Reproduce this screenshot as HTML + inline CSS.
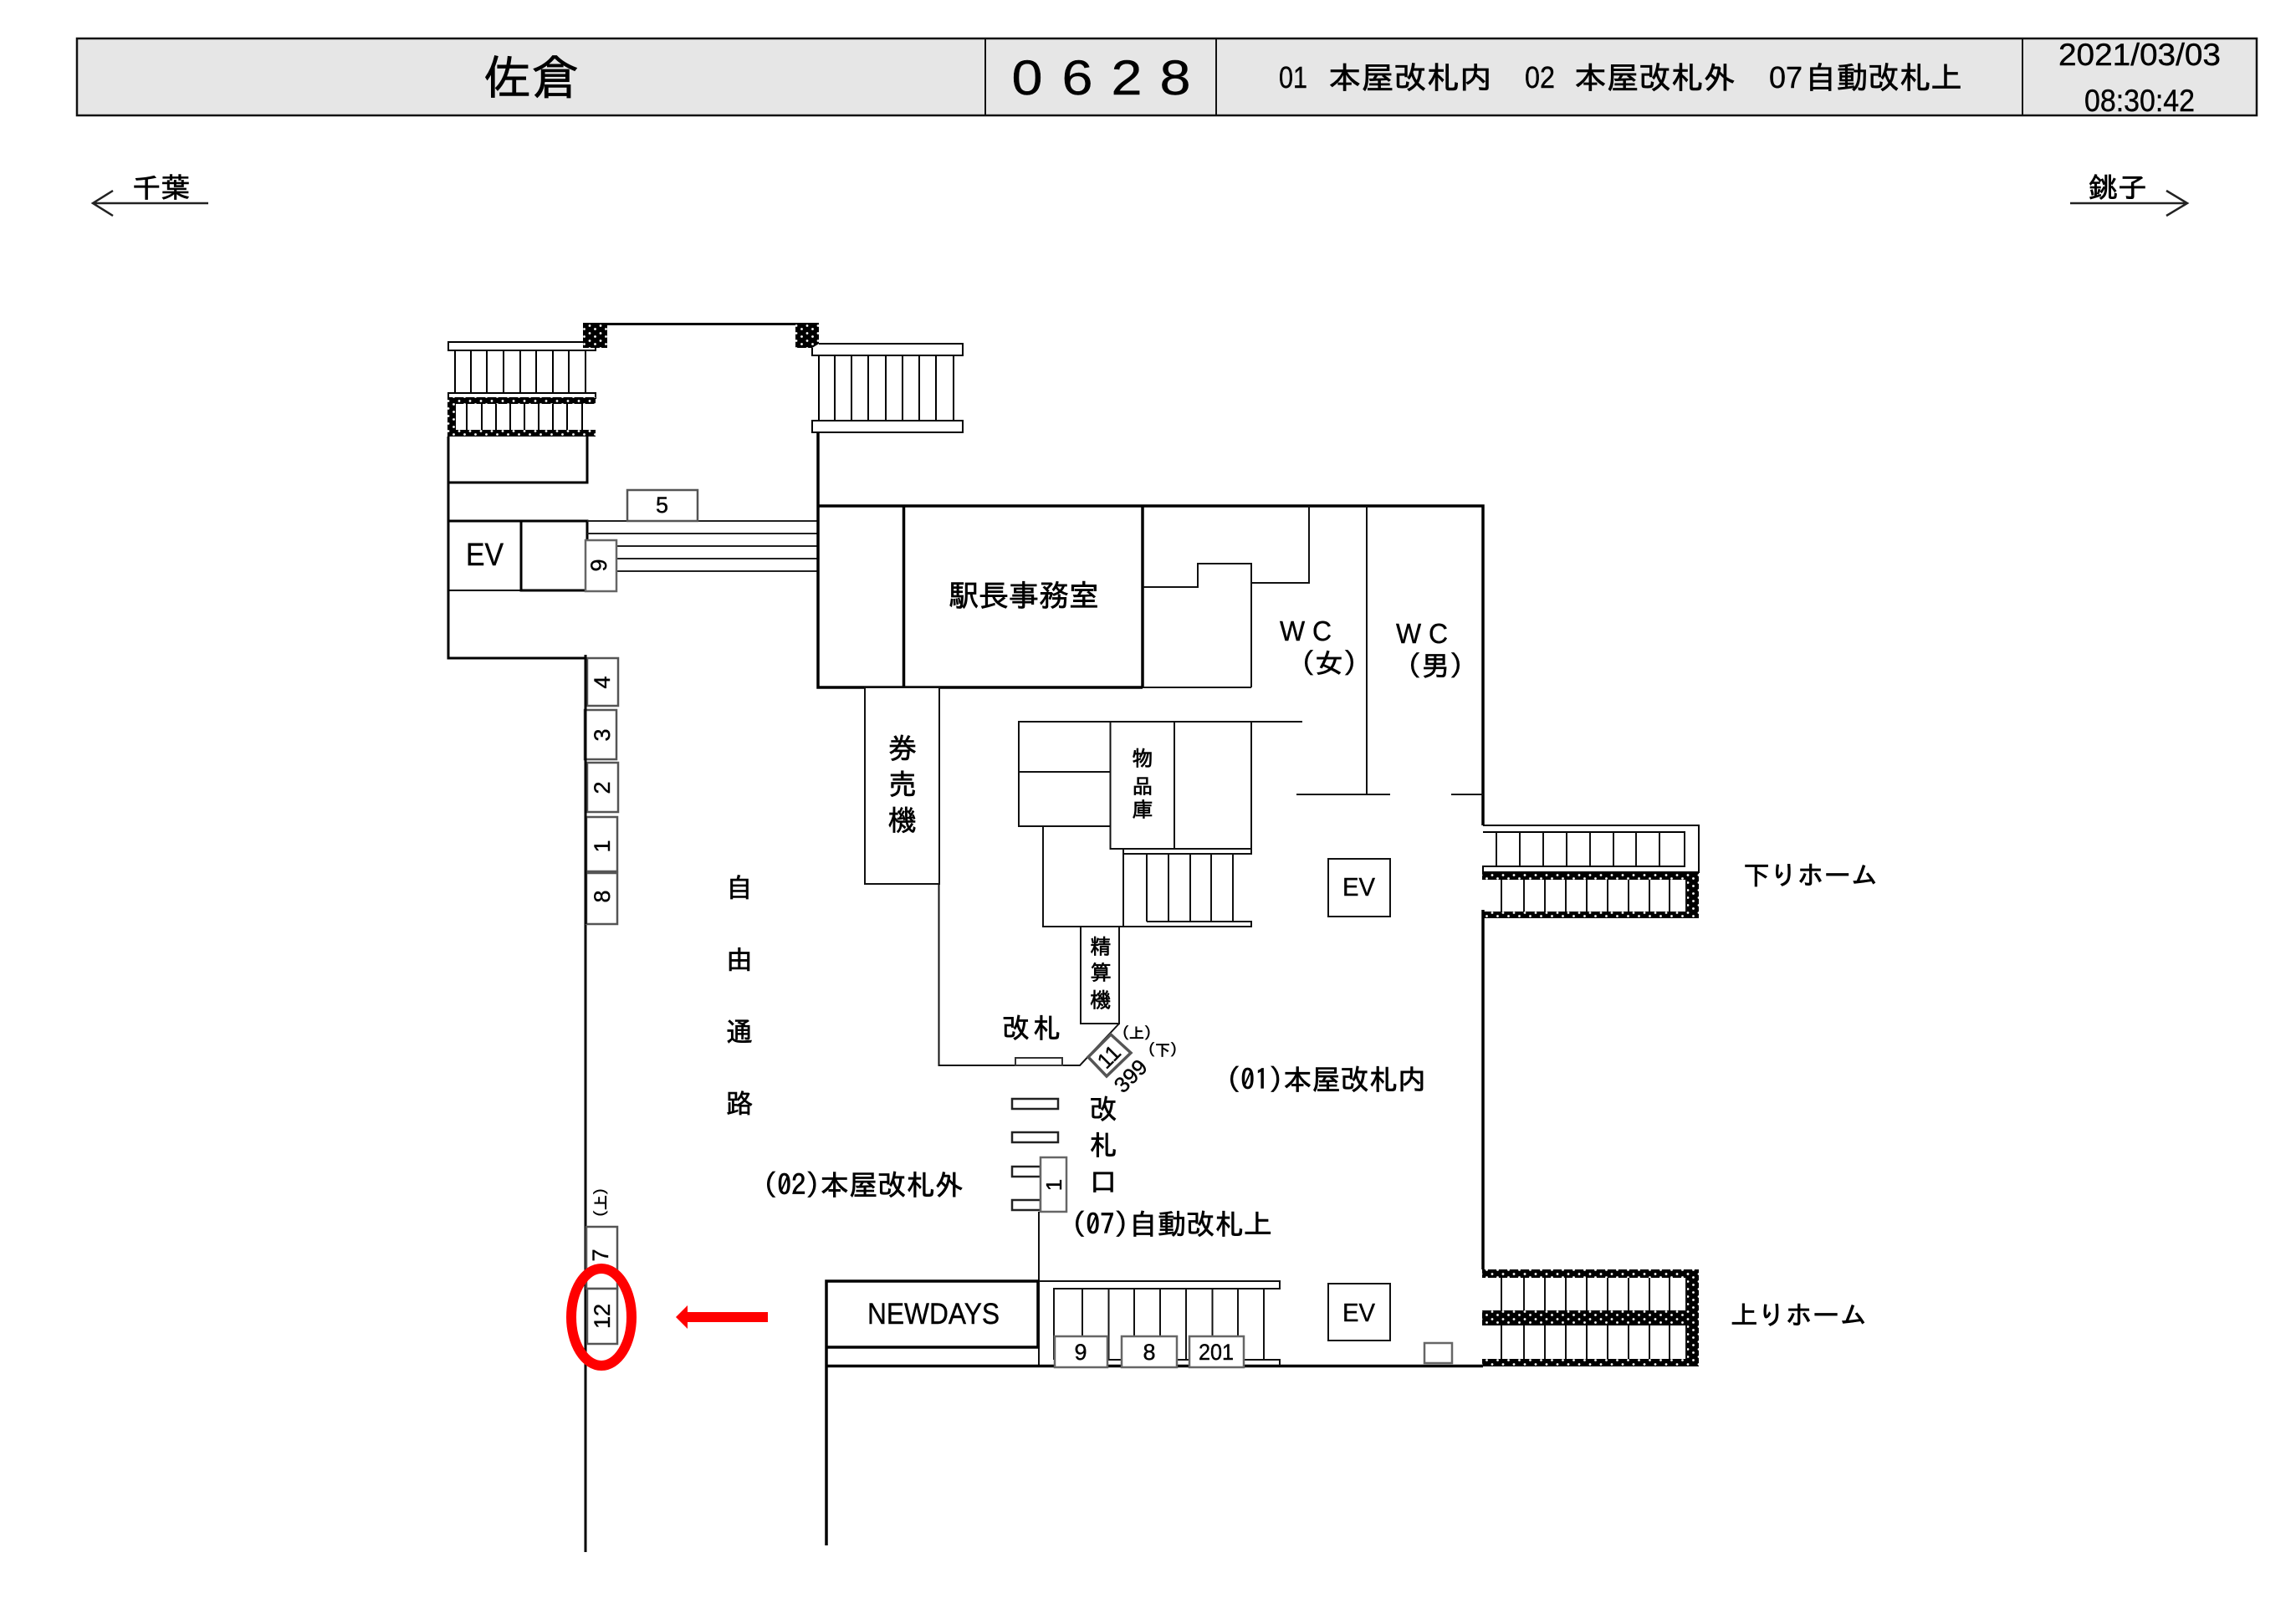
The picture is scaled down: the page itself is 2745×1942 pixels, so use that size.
<!DOCTYPE html>
<html lang="ja">
<head>
<meta charset="utf-8">
<title>佐倉 0628</title>
<style>
html,body{margin:0;padding:0;background:#fff}
svg{display:block}
.j{font-family:"IPAGothic","Noto Sans CJK JP",sans-serif;fill:#000;stroke:#000;stroke-width:.7px}
.l{font-family:"Liberation Sans",sans-serif;fill:#000;stroke:#000;stroke-width:.4px}
.m{text-anchor:middle}
</style>
</head>
<body>
<svg xmlns="http://www.w3.org/2000/svg" width="2745" height="1942" viewBox="0 0 2745 1942">
<defs>
<pattern id="d" patternUnits="userSpaceOnUse" width="13" height="9" x="0" y="0">
<rect width="13" height="9" fill="#000"/>
<circle cx="3" cy="2.5" r="1.4" fill="#fff"/>
<circle cx="9.5" cy="6.5" r="1.4" fill="#fff"/>
</pattern>
</defs>
<rect width="2745" height="1942" fill="#fff"/>

<!-- Header -->
<rect x="92" y="46" width="2606" height="92" fill="#e6e6e6" stroke="#111" stroke-width="2.5"/>
<path d="M1178 46V138M1454 46V138M2418 46V138" stroke="#111" stroke-width="2" fill="none"/>
<text class="j" x="578" y="113" font-size="56" textLength="114" lengthAdjust="spacingAndGlyphs">佐倉</text>
<text class="l m" x="1228" y="113" font-size="58" textLength="37" lengthAdjust="spacingAndGlyphs">0</text>
<text class="l m" x="1288" y="113" font-size="58" textLength="37" lengthAdjust="spacingAndGlyphs">6</text>
<text class="l m" x="1347" y="113" font-size="58" textLength="37" lengthAdjust="spacingAndGlyphs">2</text>
<text class="l m" x="1405" y="113" font-size="58" textLength="37" lengthAdjust="spacingAndGlyphs">8</text>
<text class="l" x="1529" y="105" font-size="36" textLength="34" lengthAdjust="spacingAndGlyphs">01</text>
<text class="j" x="1588" y="106" font-size="37" textLength="196" lengthAdjust="spacingAndGlyphs">本屋改札内</text>
<text class="l" x="1823" y="105" font-size="36" textLength="36" lengthAdjust="spacingAndGlyphs">02</text>
<text class="j" x="1882" y="106" font-size="37" textLength="193" lengthAdjust="spacingAndGlyphs">本屋改札外</text>
<text class="l" x="2115" y="105" font-size="36" textLength="40" lengthAdjust="spacingAndGlyphs">07</text>
<text class="j" x="2158" y="106" font-size="37" textLength="188" lengthAdjust="spacingAndGlyphs">自動改札上</text>
<text class="l" x="2461" y="78" font-size="37" textLength="194" lengthAdjust="spacingAndGlyphs">2021/03/03</text>
<text class="l" x="2492" y="133" font-size="37" textLength="132" lengthAdjust="spacingAndGlyphs">08:30:42</text>

<!-- Direction arrows -->
<path d="M249 243H111M135 228L111 243L135 258" stroke="#222" stroke-width="2.5" fill="none"/>
<text class="j" x="158" y="236" font-size="33" textLength="69" lengthAdjust="spacingAndGlyphs">千葉</text>
<path d="M2475 243H2615M2590 228L2615 243L2590 258" stroke="#222" stroke-width="2.5" fill="none"/>
<text class="j" x="2497" y="236" font-size="33" textLength="70" lengthAdjust="spacingAndGlyphs">銚子</text>

<!-- Top-left stairs -->
<rect x="536" y="409" width="176" height="10" fill="#fff" stroke="#000" stroke-width="2"/>
<path d="M544 419V470M563 419V470M582 419V470M602 419V470M622 419V470M641 419V470M661 419V470M680 419V470M700 419V470" stroke="#000" stroke-width="2" fill="none"/>
<rect x="536" y="470" width="176" height="6" fill="#fff" stroke="#000" stroke-width="2"/>
<rect x="535" y="475" width="177" height="8" fill="url(#d)"/>
<rect x="535" y="475" width="10" height="47" fill="url(#d)"/>
<rect x="535" y="514" width="177" height="8" fill="url(#d)"/>
<path d="M558 483V514M576 483V514M593 483V514M610 483V514M627 483V514M644 483V514M661 483V514M678 483V514M696 483V514" stroke="#000" stroke-width="2" fill="none"/>
<rect x="697" y="386" width="29" height="30" fill="url(#d)"/>
<rect x="951" y="386" width="28" height="30" fill="url(#d)"/>
<path d="M726 387.500H951" stroke="#000" stroke-width="3" fill="none"/>

<!-- Top-right stairs -->
<path d="M979 411H1151V425H971V416" stroke="#000" stroke-width="2" fill="#fff"/>
<path d="M979 425V502M998 425V502M1018 425V502M1038 425V502M1059 425V502M1079 425V502M1099 425V502M1119 425V502M1140 425V502" stroke="#000" stroke-width="2" fill="none"/>
<rect x="971" y="503" width="180" height="14" fill="#fff" stroke="#000" stroke-width="2"/>

<!-- Left walled block -->
<path d="M536 522V787H700M536 577H702V522" stroke="#000" stroke-width="3" fill="none"/>
<path d="M536 623H702V645M623 623V706H700" stroke="#000" stroke-width="3" fill="none"/>
<path d="M536 706H623" stroke="#000" stroke-width="2" fill="none"/>
<text class="l" x="557" y="676" font-size="38" textLength="45" lengthAdjust="spacingAndGlyphs">EV</text>
<path d="M702 623H978M702 638H978M737 653H978M737 668H978M737 683H978" stroke="#222" stroke-width="2" fill="none"/>
<rect x="750" y="586" width="84" height="37" fill="#fff" stroke="#555" stroke-width="2.500"/>
<text class="l m" x="791.500" y="613" font-size="27">5</text>
<rect x="700" y="646" width="37" height="61" fill="#fff" stroke="#666" stroke-width="2.500"/>
<text class="l m" font-size="27" transform="translate(725,676) rotate(-90)">9</text>

<!-- Long left wall -->
<path d="M700 783V1856" stroke="#000" stroke-width="3" fill="none"/>
<g fill="#fff" stroke="#555" stroke-width="2.500">
<rect x="702" y="787" width="37" height="57"/>
<rect x="699" y="849" width="38" height="59"/>
<rect x="702" y="912" width="37" height="59"/>
<rect x="701" y="977" width="37" height="65"/>
<rect x="701" y="1044" width="37" height="61"/>
<rect x="701" y="1467" width="37" height="74"/>
<rect x="702" y="1541" width="36" height="66"/>
</g>
<path d="M700 783V1105" stroke="#000" stroke-width="3" fill="none"/>
<g>
<text class="l m" font-size="27" transform="translate(729,816) rotate(-90)">4</text>
<text class="l m" font-size="27" transform="translate(729,879) rotate(-90)">3</text>
<text class="l m" font-size="27" transform="translate(729,942) rotate(-90)">2</text>
<text class="l m" font-size="27" transform="translate(729,1012) rotate(-90)">1</text>
<text class="l m" font-size="27" transform="translate(729,1072) rotate(-90)">8</text>
<text class="l m" font-size="27" transform="translate(727,1501) rotate(-90)">7</text>
<text class="l m" font-size="27" transform="translate(729,1574) rotate(-90)">12</text>
</g>
<text class="j m" font-size="18" transform="translate(725,1438) rotate(-90)">(上)</text>

<!-- 自由通路 -->
<text class="j m" x="884" y="1073" font-size="32">自</text>
<text class="j m" x="884" y="1159" font-size="32">由</text>
<text class="j m" x="884" y="1245" font-size="32">通</text>
<text class="j m" x="884" y="1331" font-size="32">路</text>

<!-- Main building -->
<path d="M978 517V822H1366M978 605H1773V987M1080.500 605V822M1366 605V822" stroke="#000" stroke-width="3.500" fill="none"/>
<path d="M1565 605V697H1496M1496 822V674H1432V702H1367M1366 822H1496M1634 605V950M1550 950H1662M1735 950H1773" stroke="#111" stroke-width="2" fill="none"/>
<text class="j" x="1134" y="725" font-size="36" textLength="180" lengthAdjust="spacingAndGlyphs">駅長事務室</text>
<text class="l" x="1530" y="766" font-size="33" textLength="62" lengthAdjust="spacingAndGlyphs">W C</text>
<text class="j" x="1555" y="805" font-size="33" textLength="68" lengthAdjust="spacingAndGlyphs">(女)</text>
<text class="l" x="1669" y="769" font-size="33" textLength="62" lengthAdjust="spacingAndGlyphs">W C</text>
<text class="j" x="1682" y="808" font-size="33" textLength="68" lengthAdjust="spacingAndGlyphs">(男)</text>

<!-- 券売機 -->
<rect x="1034" y="822" width="89" height="235" fill="#fff" stroke="#111" stroke-width="2"/>
<text class="j m" x="1079" y="907" font-size="34">券</text>
<text class="j m" x="1079" y="950" font-size="34">売</text>
<text class="j m" x="1079" y="993" font-size="34">機</text>
<path d="M1122.500 1057V1274H1291L1338 1224" stroke="#111" stroke-width="2" fill="none"/>

<!-- Storage block -->
<path d="M1557 863H1218V988H1327M1218 923H1327M1327.500 863V1015H1496M1404 863V1015M1496 863V1021H1343M1247 988V1108H1496V1102H1371M1343 1015V1108" stroke="#111" stroke-width="2" fill="none"/>
<path d="M1371 1021V1102M1397 1021V1102M1423 1021V1102M1448 1021V1102M1474 1021V1102" stroke="#111" stroke-width="2" fill="none"/>
<text class="j m" x="1366" y="916" font-size="25">物</text>
<text class="j m" x="1366" y="949" font-size="25">品</text>
<text class="j m" x="1366" y="977" font-size="25">庫</text>
<rect x="1292" y="1108" width="46" height="116" fill="#fff" stroke="#111" stroke-width="2"/>
<text class="j m" x="1316" y="1141" font-size="25">精</text>
<text class="j m" x="1316" y="1172" font-size="25">算</text>
<text class="j m" x="1316" y="1205" font-size="25">機</text>

<!-- EV upper / lower -->
<rect x="1588" y="1027" width="74" height="69" fill="#fff" stroke="#111" stroke-width="2"/>
<text class="l" x="1605" y="1071" font-size="31" textLength="39" lengthAdjust="spacingAndGlyphs">EV</text>
<rect x="1588" y="1535" width="74" height="68" fill="#fff" stroke="#111" stroke-width="2"/>
<text class="l" x="1605" y="1580" font-size="31" textLength="39" lengthAdjust="spacingAndGlyphs">EV</text>

<!-- Gates -->
<text class="j" x="1198" y="1241" font-size="33" textLength="70" lengthAdjust="spacing">改札</text>
<rect x="1214" y="1265" width="56" height="9" fill="#fff" stroke="#333" stroke-width="2"/>
<path d="M1301 1264L1328 1237L1352 1259L1323 1287Z" fill="#fff" stroke="#555" stroke-width="3.500"/>
<text class="l m" font-size="26" transform="translate(1332,1270) rotate(-45)">11</text>
<text class="j m" x="1359" y="1242" font-size="18">(上)</text>
<text class="j m" x="1390" y="1262" font-size="18">(下)</text>
<text class="l m" font-size="26" transform="translate(1358,1293) rotate(-45)">399</text>
<text class="j" x="1466" y="1303" font-size="34" textLength="239" lengthAdjust="spacingAndGlyphs">(01)本屋改札内</text>
<text class="j" x="912" y="1429" font-size="34" textLength="240" lengthAdjust="spacingAndGlyphs">(02)本屋改札外</text>
<text class="j" x="1281" y="1476" font-size="34" textLength="240" lengthAdjust="spacingAndGlyphs">(07)自動改札上</text>
<text class="j m" x="1319" y="1338" font-size="33">改</text>
<text class="j m" x="1319" y="1381" font-size="33">札</text>
<text class="j m" x="1319" y="1425" font-size="33">口</text>
<g fill="#fff" stroke="#222" stroke-width="2.500">
<rect x="1210" y="1314" width="55" height="12"/>
<rect x="1210" y="1354" width="55" height="12"/>
<rect x="1210" y="1395" width="34" height="12"/>
<rect x="1210" y="1435" width="34" height="12"/>
</g>
<rect x="1244" y="1384" width="31" height="65" fill="#fff" stroke="#666" stroke-width="2.500"/>
<text class="l m" font-size="26" transform="translate(1269,1417) rotate(-90)">1</text>
<path d="M1242 1449V1633" stroke="#111" stroke-width="2" fill="none"/>

<!-- NEWDAYS + lower stairs -->
<path d="M988 1848V1532H1241V1611H988M988 1633.500H1773" stroke="#000" stroke-width="3.500" fill="none"/>
<text class="l" x="1037" y="1583" font-size="35" textLength="158" lengthAdjust="spacingAndGlyphs">NEWDAYS</text>
<path d="M1242 1532H1530V1541H1260V1626M1530 1633V1626H1260" stroke="#111" stroke-width="2" fill="none"/>
<path d="M1294 1541V1626M1325.500 1541V1626M1356 1541V1626M1387 1541V1626M1418 1541V1626M1449.500 1541V1626M1480 1541V1626M1511 1541V1626" stroke="#111" stroke-width="2" fill="none"/>
<g fill="#fff" stroke="#666" stroke-width="2.500">
<rect x="1261" y="1598" width="63" height="37"/>
<rect x="1341" y="1598" width="66" height="37"/>
<rect x="1422" y="1598" width="65" height="37"/>
<rect x="1703" y="1606" width="33" height="24"/>
</g>
<text class="l m" x="1292" y="1626" font-size="27">9</text>
<text class="l m" x="1374" y="1626" font-size="27">8</text>
<text class="l m" x="1454" y="1626" font-size="27" textLength="42" lengthAdjust="spacingAndGlyphs">201</text>

<!-- Right platform stairs - up -->
<path d="M1773 987H2031V1043H1773V1036H2014V995H1773" stroke="#000" stroke-width="2" fill="none"/>
<path d="M1789 995V1036M1817 995V1036M1845 995V1036M1873 995V1036M1901 995V1036M1929 995V1036M1956 995V1036M1984 995V1036M2014 995V1036" stroke="#111" stroke-width="2" fill="none"/>
<rect x="1772" y="1043" width="259" height="9" fill="url(#d)"/>
<rect x="2017" y="1043" width="14" height="55" fill="url(#d)"/>
<rect x="1772" y="1090" width="259" height="8" fill="url(#d)"/>
<path d="M1795 1052V1090M1822 1052V1090M1847 1052V1090M1872 1052V1090M1897 1052V1090M1922 1052V1090M1947 1052V1090M1972 1052V1090M1996 1052V1090M2016 1052V1090" stroke="#111" stroke-width="2" fill="none"/>
<path d="M1773 1088V1518" stroke="#000" stroke-width="3.500" fill="none"/>
<text class="j" x="2084" y="1058" font-size="32" textLength="161" lengthAdjust="spacingAndGlyphs">下りホーム</text>

<!-- Right platform stairs - down -->
<rect x="1772" y="1518" width="259" height="10" fill="url(#d)"/>
<rect x="1772" y="1567" width="259" height="18" fill="url(#d)"/>
<rect x="1772" y="1625" width="259" height="9" fill="url(#d)"/>
<rect x="2017" y="1518" width="14" height="116" fill="url(#d)"/>
<path d="M1795 1528V1567M1822 1528V1567M1847 1528V1567M1872 1528V1567M1897 1528V1567M1922 1528V1567M1947 1528V1567M1972 1528V1567M1996 1528V1567M2016 1528V1567M1795 1585V1625M1822 1585V1625M1847 1585V1625M1872 1585V1625M1897 1585V1625M1922 1585V1625M1947 1585V1625M1972 1585V1625M1996 1585V1625M2016 1585V1625" stroke="#111" stroke-width="2" fill="none"/>
<text class="j" x="2069" y="1584" font-size="32" textLength="163" lengthAdjust="spacingAndGlyphs">上りホーム</text>

<!-- Red marker -->
<ellipse cx="719" cy="1575" rx="36" ry="58" fill="none" stroke="#ff0000" stroke-width="12"/>
<path d="M808 1575L822 1561V1569H918V1581H822V1589Z" fill="#ff0000"/>
</svg>
</body>
</html>
